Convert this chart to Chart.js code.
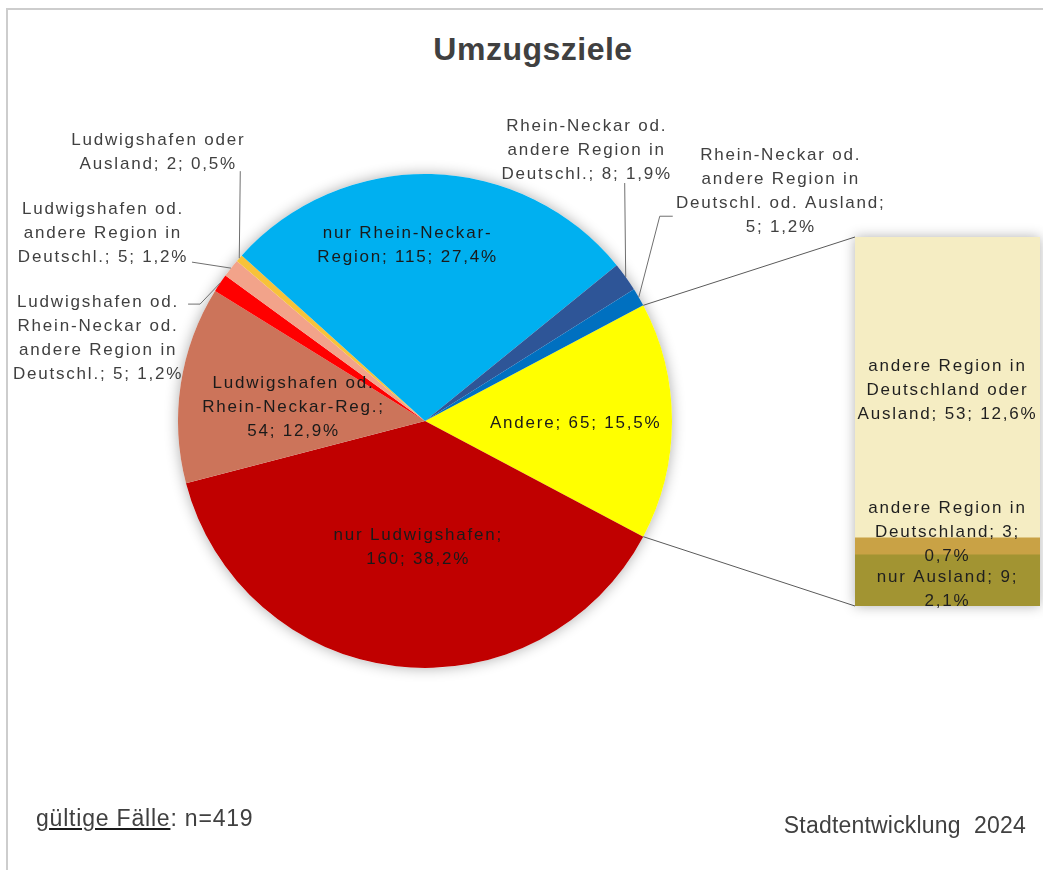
<!DOCTYPE html>
<html>
<head>
<meta charset="utf-8">
<title>Umzugsziele</title>
<script src="https://cdn.jsdelivr.net/npm/chart.js"></script>
<style>
  body{margin:0;background:#fff;width:1043px;height:870px;overflow:hidden;position:relative;font-family:"Liberation Sans",Arial,sans-serif}
  #frame{position:absolute;left:6px;top:8px;width:1100px;height:900px;border:2px solid #cdcdcd}
  canvas{position:absolute;left:0;top:0}
  #title{position:absolute;left:0;width:1066px;top:33px;line-height:32px;text-align:center;font-weight:bold;font-size:32px;color:#404040;letter-spacing:0.5px}
  #cases{position:absolute;left:36px;top:807px;line-height:23px;font-size:23px;color:#404040;letter-spacing:0.8px}
  #cases u{text-decoration-color:#1a1a1a}
  #source{position:absolute;right:17px;top:814px;line-height:23px;font-size:23px;color:#404040;letter-spacing:0.2px;white-space:pre}
</style>
</head>
<body>
<div id="frame"></div>
<div id="title">Umzugsziele</div>
<canvas id="pieChart" width="1043" height="870"></canvas>
<canvas id="barChart" width="1043" height="870"></canvas>
<div id="cases"><u>gültige Fälle</u>: n=419</div>
<div id="source">Stadtentwicklung  2024</div>

<script>
// Daten: Kreis (im Uhrzeigersinn, beginnend mit "Andere")
const pieLabels = [
  'Andere',
  'nur Ludwigshafen',
  'Ludwigshafen od. Rhein-Neckar-Reg.',
  'Ludwigshafen od. Rhein-Neckar od. andere Region in Deutschl.',
  'Ludwigshafen od. andere Region in Deutschl.',
  'Ludwigshafen oder Ausland',
  'nur Rhein-Neckar-Region',
  'Rhein-Neckar od. andere Region in Deutschl.',
  'Rhein-Neckar od. andere Region in Deutschl. od. Ausland'
]
const pieValues = [65, 160, 54, 5, 5, 2, 115, 8, 5]
const pieColors = ['#FFFF00', '#C00000', '#CC745A', '#FF0000', '#F2A38A', '#F7C23A', '#00B0F0', '#2E5597', '#0070C0']

// Daten: Aufteilung von "Andere" (Säule, von unten nach oben)
const barLabels = ['nur Ausland', 'andere Region in Deutschland', 'andere Region in Deutschland oder Ausland']
const barValues = [9, 3, 53]
const barColors = ['#A29432', '#C9A245', '#F5EDC3']

const total = pieValues.reduce((a, b) => a + b, 0)
const otherTotal = barValues.reduce((a, b) => a + b, 0)

// Layout
const pieCx = 425, pieCy = 421, pieR = 247
const barLeft = 855, barRight = 1040, barTop = 237, barBottom = 606
const lineHeight = 24
const labelFont = '17px "Liberation Sans", Arial, sans-serif'

// Beschriftungen: Wörter pro Zeile, Position relativ zum Segment
const pieLabelLayout = [
  {words: [3], r: 0.61, dx: 0, dy: 2},
  {words: [2, 2], r: 0.515, dx: 8, dy: 0},
  {words: [2, 3, 2], r: 0.53, dx: -2, dy: 6},
  {words: [2, 3, 3, 3], dx: -122, dy: 55, leader: [[-20, 21], [-32, 21]]},
  {words: [2, 3, 3], dx: -128, dy: -35, leader: [[-39, -6]]},
  {words: [2, 3], dx: -81, dy: -106, leader: [[1, -87]]},
  {words: [3, 3], r: 0.71, dx: -22, dy: 0},
  {words: [3, 3, 3], dx: -39, dy: -127, leader: [[-1, -94]]},
  {words: [3, 3, 3, 2], dx: 142, dy: -106, leader: [[21, -81], [34, -81]]}
]
const barLabelLayout = [
  {words: [3, 1], dy: 9},
  {words: [3, 2, 1], dy: -14},
  {words: [3, 2, 3], dy: 3}
]

function pct(v) {
  return (v / total * 100).toLocaleString('de-DE', {minimumFractionDigits: 1, maximumFractionDigits: 1}) + '%'
}

// Text in Zeilen aufteilen (Trennung an Leerzeichen und Bindestrichen)
function splitLines(text, counts) {
  let tokens = text.match(/[^\s-]+(-|\s+|$)/g)
  let lines = []
  let k = 0
  counts.forEach(function (n) {
    lines.push(tokens.slice(k, k + n).join('').trim())
    k += n
  })
  return lines
}

function drawLines(ctx, lines, x, y, color) {
  ctx.save()
  ctx.font = labelFont
  ctx.letterSpacing = '1.8px'
  ctx.fillStyle = color
  ctx.textAlign = 'center'
  ctx.textBaseline = 'middle'
  let y0 = y - (lines.length - 1) * lineHeight / 2
  lines.forEach(function (line, i) {
    ctx.fillText(line, x, y0 + i * lineHeight)
  })
  ctx.restore()
}

// Säule für "Andere"
const barShadow = {
  id: 'barShadow',
  beforeDatasetsDraw(chart) {
    const ctx = chart.ctx
    const a = chart.chartArea
    ctx.save()
    ctx.shadowColor = 'rgba(0,0,0,0.30)'
    ctx.shadowBlur = 12
    ctx.fillStyle = '#fff'
    ctx.fillRect(a.left, a.top, a.right - a.left, a.bottom - a.top)
    ctx.restore()
  },
  afterDatasetsDraw(chart) {
    const ctx = chart.ctx
    barValues.forEach(function (v, i) {
      const el = chart.getDatasetMeta(i).data[0]
      const text = barLabels[i] + '; ' + v + '; ' + pct(v)
      const lines = splitLines(text, barLabelLayout[i].words)
      drawLines(ctx, lines, el.x, (el.y + el.base) / 2 + barLabelLayout[i].dy, '#1f1f1f')
    })
  }
}

const barChart = new Chart(document.getElementById('barChart'), {
  type: 'bar',
  data: {
    labels: ['Andere'],
    datasets: barValues.map(function (v, i) {
      return {label: barLabels[i], data: [v], backgroundColor: barColors[i], borderWidth: 0,
        barPercentage: 1, categoryPercentage: 1}
    })
  },
  options: {
    responsive: false,
    animation: false,
    layout: {padding: {left: barLeft, right: 1043 - barRight, top: barTop, bottom: 870 - barBottom}},
    scales: {
      x: {stacked: true, display: false},
      y: {stacked: true, display: false, min: 0, max: otherTotal}
    },
    plugins: {legend: {display: false}, tooltip: {enabled: false}}
  },
  plugins: [barShadow]
})

// Kreis
const pieExtras = {
  id: 'pieExtras',
  beforeDatasetsDraw(chart) {
    const arc = chart.getDatasetMeta(0).data[0]
    const ctx = chart.ctx
    ctx.save()
    ctx.shadowColor = 'rgba(0,0,0,0.32)'
    ctx.shadowBlur = 14
    ctx.fillStyle = '#fff'
    ctx.beginPath()
    ctx.arc(arc.x, arc.y, arc.outerRadius, 0, Math.PI * 2)
    ctx.fill()
    ctx.restore()
  },
  afterDatasetsDraw(chart) {
    const ctx = chart.ctx
    const arcs = chart.getDatasetMeta(0).data

    // Verbindungslinien zur Säule
    const top = barChart.getDatasetMeta(barValues.length - 1).data[0]
    const bottom = barChart.getDatasetMeta(0).data[0]
    const a0 = arcs[0]
    ctx.save()
    ctx.strokeStyle = '#5a5a5a'
    ctx.lineWidth = 1
    ctx.beginPath()
    ctx.moveTo(a0.x + Math.cos(a0.startAngle) * a0.outerRadius, a0.y + Math.sin(a0.startAngle) * a0.outerRadius)
    ctx.lineTo(top.x - top.width / 2, top.y)
    ctx.moveTo(a0.x + Math.cos(a0.endAngle) * a0.outerRadius, a0.y + Math.sin(a0.endAngle) * a0.outerRadius)
    ctx.lineTo(bottom.x - bottom.width / 2, bottom.base)
    ctx.stroke()
    ctx.restore()

    // Beschriftungen
    arcs.forEach(function (arc, i) {
      const lay = pieLabelLayout[i]
      const mid = (arc.startAngle + arc.endAngle) / 2
      const text = pieLabels[i] + '; ' + pieValues[i] + '; ' + pct(pieValues[i])
      const lines = splitLines(text, lay.words)
      if (lay.leader) {
        const ax = arc.x + Math.cos(mid) * arc.outerRadius
        const ay = arc.y + Math.sin(mid) * arc.outerRadius
        ctx.save()
        ctx.strokeStyle = '#6f6f6f'
        ctx.lineWidth = 1
        ctx.beginPath()
        ctx.moveTo(ax, ay)
        lay.leader.forEach(function (p) { ctx.lineTo(ax + p[0], ay + p[1]) })
        ctx.stroke()
        ctx.restore()
        drawLines(ctx, lines, ax + lay.dx, ay + lay.dy, '#404040')
      } else {
        const r = arc.outerRadius * lay.r
        drawLines(ctx, lines, arc.x + Math.cos(mid) * r + lay.dx, arc.y + Math.sin(mid) * r + lay.dy, '#1a1a1a')
      }
    })
  }
}

const pieChart = new Chart(document.getElementById('pieChart'), {
  type: 'pie',
  data: {
    labels: pieLabels,
    datasets: [{data: pieValues, backgroundColor: pieColors, borderWidth: 0}]
  },
  options: {
    responsive: false,
    animation: false,
    // "Andere" mittig auf 3 Uhr
    rotation: 90 - pieValues[0] / total * 180,
    layout: {padding: {left: pieCx - pieR, right: 1043 - pieCx - pieR, top: pieCy - pieR, bottom: 870 - pieCy - pieR}},
    plugins: {legend: {display: false}, tooltip: {enabled: false}}
  },
  plugins: [pieExtras]
})
</script>
</body>
</html>
